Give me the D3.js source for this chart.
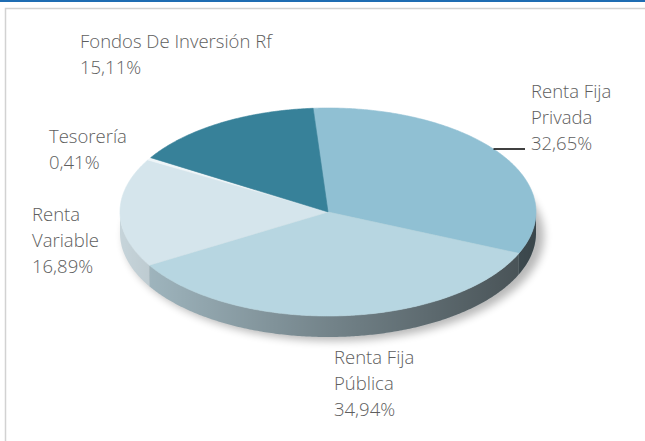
<!DOCTYPE html>
<html>
<head>
<meta charset="utf-8">
<script src="https://cdn.jsdelivr.net/npm/d3@7/dist/d3.min.js"></script>
<style>
  body { margin: 0; background: #fff; }
  svg { display: block; }
</style>
</head>
<body>
<div id="chart"></div>
<script>
// Datos de la cartera
const categories = ['Renta Fija Privada', 'Renta Fija Pública', 'Renta Variable', 'Tesorería', 'Fondos De Inversión Rf'];
const values = [32.65, 34.94, 16.89, 0.41, 15.11];
const labelLines = [['Renta Fija', 'Privada'], ['Renta Fija', 'Pública'], ['Renta', 'Variable'], ['Tesorería'], ['Fondos De Inversión Rf']];
const topColors = ['#90c0d3', '#b7d6e1', '#d5e5ec', '#eef5f8', '#378199'];
const sideColors = ['#8aa6b1', '#a5bcc5', '#c6d4da', '#d8e2e6', '#5e8795'];

const W = 645, H = 441;
const cx = 328, cy = 212, rx = 208, ry = 104, depth = 21;
const startAngle = -4.1 * Math.PI / 180;

// posiciones de las etiquetas (x, línea base de la primera línea)
const labelPos = [[531, 98], [334, 364], [32, 221], [49, 143], [80, 48]];
const lineH = 26;

const svg = d3.select('#chart').append('svg')
  .attr('width', W)
  .attr('height', H);

const defs = svg.append('defs');

const blur = defs.append('filter').attr('id', 'shadow-blur')
  .attr('x', '-20%').attr('y', '-20%').attr('width', '140%').attr('height', '140%');
blur.append('feGaussianBlur').attr('stdDeviation', 4);

const sideShade = defs.append('linearGradient')
  .attr('id', 'side-shade')
  .attr('gradientUnits', 'userSpaceOnUse')
  .attr('x1', cx - rx).attr('x2', cx + rx)
  .attr('y1', 0).attr('y2', 0);
sideShade.append('stop').attr('offset', '0%').attr('stop-color', '#000').attr('stop-opacity', 0);
sideShade.append('stop').attr('offset', '50%').attr('stop-color', '#000').attr('stop-opacity', 0.3);
sideShade.append('stop').attr('offset', '100%').attr('stop-color', '#000').attr('stop-opacity', 0.58);

// marco
svg.append('line')
  .attr('x1', 0).attr('x2', W).attr('y1', 1).attr('y2', 1)
  .attr('stroke', '#1f6db3').attr('stroke-width', 2);
svg.append('path')
  .attr('d', `M5.5,${H} V8.5 H${W}`)
  .attr('fill', 'none').attr('stroke', '#d2d2d2').attr('stroke-width', 1.5);

const pie = d3.pie().sort(null).value(d => d)
  .startAngle(startAngle).endAngle(startAngle + 2 * Math.PI);
const arcs = pie(values);

const pt = (a, dy = 0) => [cx + rx * Math.sin(a), cy - ry * Math.cos(a) + dy];
const samples = (a0, a1) => {
  const n = Math.max(2, Math.ceil((a1 - a0) / 0.01));
  return d3.range(n + 1).map(i => a0 + (a1 - a0) * i / n);
};
const line = d3.line();

// sombra
svg.append('ellipse')
  .attr('cx', cx + 6).attr('cy', cy + depth + 3)
  .attr('rx', rx + 2).attr('ry', ry + 1)
  .attr('fill', '#000').attr('opacity', 0.28)
  .attr('filter', 'url(#shadow-blur)');

// laterales
const sides = svg.append('g');
arcs.forEach((d, i) => {
  const s0 = Math.max(d.startAngle, Math.PI / 2);
  const s1 = Math.min(d.endAngle, 3 * Math.PI / 2);
  if (s0 >= s1) return;
  const ang = samples(s0, s1);
  const pts = ang.map(a => pt(a)).concat(ang.slice().reverse().map(a => pt(a, depth)));
  const p = line(pts) + 'Z';
  sides.append('path').attr('d', p).attr('fill', sideColors[i]);
  sides.append('path').attr('d', p).attr('fill', 'url(#side-shade)');
});

// caras superiores
const tops = svg.append('g');
arcs.forEach((d, i) => {
  const pts = [[cx, cy]].concat(samples(d.startAngle, d.endAngle).map(a => pt(a)));
  tops.append('path')
    .attr('d', line(pts) + 'Z')
    .attr('fill', topColors[i])
    .attr('stroke', topColors[i])
    .attr('stroke-width', 0.6);
});

// etiquetas
const labels = svg.append('g')
  .attr('font-family', '"Open Sans", "Noto Sans", sans-serif')
  .attr('font-size', 18.5)
  .attr('font-weight', 300)
  .attr('fill', '#5e5e5e');

const fmt = v => d3.format('.2f')(v).replace('.', ',') + '%';

arcs.forEach((d, i) => {
  const [lx, ly] = labelPos[i];
  const lines = labelLines[i].concat([fmt(values[i])]);
  const t = labels.append('text').attr('x', lx).attr('y', ly);
  lines.forEach((s, k) => {
    t.append('tspan').attr('x', lx).attr('y', ly + k * lineH).text(s);
  });
});

// línea guía de Renta Fija Privada
const ly0 = labelPos[0][1] + 2 * lineH - 1;
const ex = cx + rx * Math.sqrt(1 - Math.pow((cy - ly0) / ry, 2));
svg.append('line')
  .attr('x1', ex).attr('x2', labelPos[0][0] - 6)
  .attr('y1', ly0).attr('y2', ly0)
  .attr('stroke', '#000')
  .attr('stroke-width', 1.5);
</script>
</body>
</html>
